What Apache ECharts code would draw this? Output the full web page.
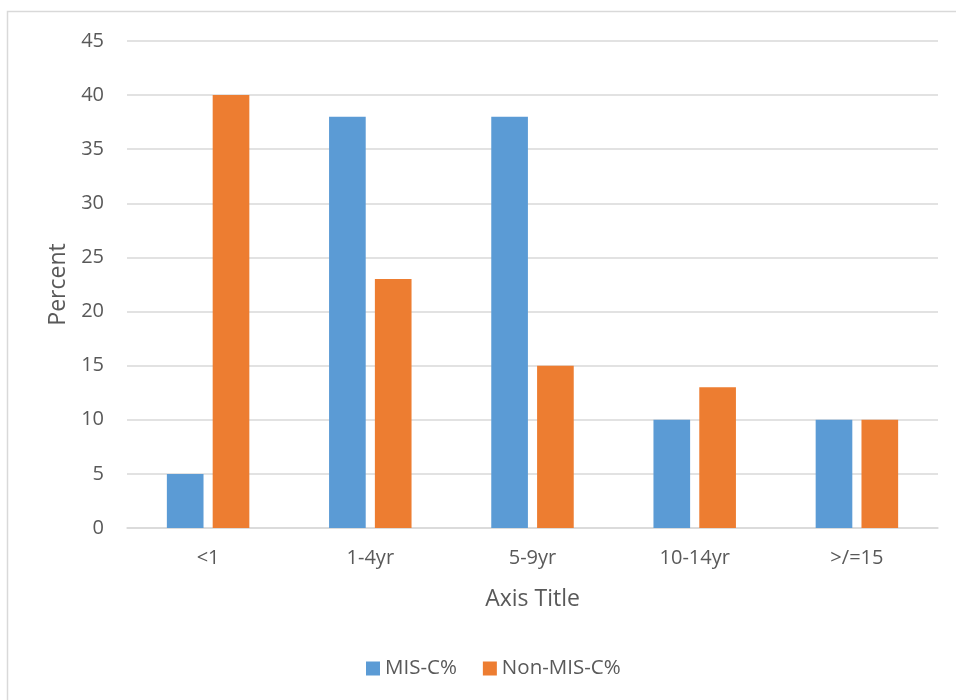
<!DOCTYPE html>
<html>
<head>
<meta charset="utf-8">
<script src="https://cdn.jsdelivr.net/npm/echarts@6/dist/echarts.min.js"></script>
<style>html,body{margin:0;padding:0;background:#fff}#c{width:956px;height:700px}</style>
</head>
<body>
<div id="c"></div>
<script>
const categories = ['<1', '1-4yr', '5-9yr', '10-14yr', '>/=15'];
const misc = [5, 38, 38, 10, 10];
const nonMisc = [40, 23, 15, 13, 10];
const yTicks = [0, 5, 10, 15, 20, 25, 30, 35, 40, 45];

const FONT = '"Open Sans", "Noto Sans", sans-serif';
const chart = echarts.init(document.getElementById('c'));
chart.setOption({
  animation: false,
  backgroundColor: '#fff',
  textStyle: { fontFamily: FONT, color: '#595959' },
  graphic: [{
    type: 'rect', shape: { x: 7.5, y: 11.5, width: 960, height: 700 },
    style: { fill: 'none', stroke: '#D9D9D9', lineWidth: 1.5 }, silent: true
  }],
  grid: { left: 127, right: 18, top: 41, bottom: 172, containLabel: false },
  legend: {
    bottom: 16, left: 361, itemWidth: 14, itemHeight: 14, itemGap: 26,
    icon: 'rect',
    textStyle: { fontFamily: FONT, fontSize: 20.5, color: '#595959' },
    data: ['MIS-C%', 'Non-MIS-C%']
  },
  xAxis: {
    type: 'category', data: categories,
    name: 'Axis Title', nameLocation: 'middle', nameGap: 60,
    nameTextStyle: { fontFamily: FONT, fontSize: 23, color: '#595959' },
    axisLine: { lineStyle: { color: '#D9D9D9', width: 1.5 } },
    axisTick: { show: false },
    axisLabel: { fontFamily: FONT, fontSize: 20, color: '#595959', margin: 20 }
  },
  yAxis: {
    type: 'value', min: yTicks[0], max: yTicks[yTicks.length - 1], interval: 5,
    name: 'Percent', nameLocation: 'middle', nameGap: 57, nameRotate: 90,
    nameTextStyle: { fontFamily: FONT, fontSize: 23, color: '#595959' },
    axisLine: { show: false }, axisTick: { show: false },
    axisLabel: { fontFamily: FONT, fontSize: 20, color: '#595959', margin: 23 },
    splitLine: { lineStyle: { color: '#D9D9D9', width: 1.5 } }
  },
  series: [
    { name: 'MIS-C%', type: 'bar', data: misc, barWidth: '22.6%', barGap: '25%',
      itemStyle: { color: '#5B9BD5' } },
    { name: 'Non-MIS-C%', type: 'bar', data: nonMisc, barWidth: '22.6%', barGap: '25%',
      itemStyle: { color: '#ED7D31' } }
  ]
});
</script>
</body>
</html>
